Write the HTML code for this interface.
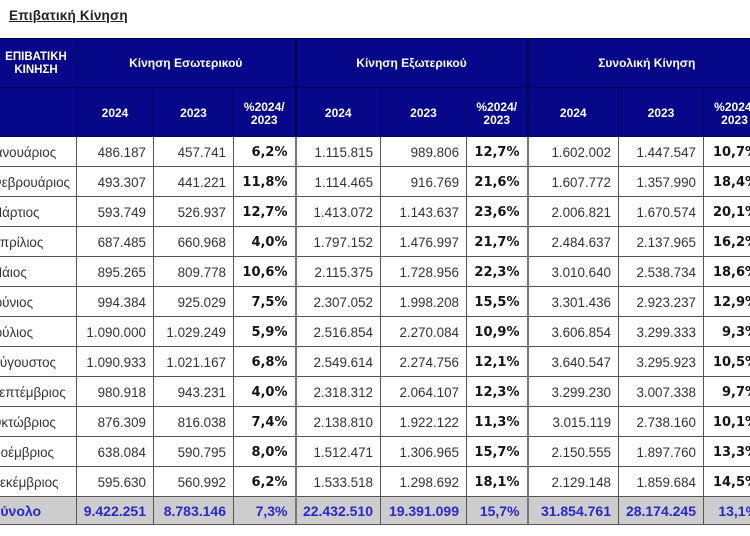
<!DOCTYPE html>
<html>
<head>
<meta charset="utf-8">
<style>
html,body{margin:0;padding:0;background:#fff;}
body{width:750px;height:536px;overflow:hidden;position:relative;font-family:"Liberation Sans","DejaVu Sans",sans-serif;}
.title{position:absolute;left:9px;top:8px;font-size:13.5px;font-weight:bold;color:#222;text-decoration:underline;letter-spacing:0.2px;}
table{position:absolute;left:-7px;top:38px;border-collapse:collapse;table-layout:fixed;width:772px;}
td{padding:0;overflow:hidden;white-space:nowrap;}
.h td{background:#07078a;color:#fff;font-weight:bold;font-size:12px;text-align:center;border:1px solid #00005a;line-height:13px;}
.h1{height:49px;}
.h2{height:49px;}
.h1 td{padding-top:1px;}
.h2 td{padding-top:3px;}
.d td{border:1px solid #555;height:27px;font-size:13.4px;color:#333;text-align:right;padding-right:7px;padding-top:2px;}
.d td.m{text-align:left;padding-left:0;padding-right:0;text-indent:-3px;}
.d td.p{font-family:"DejaVu Sans","Liberation Sans",sans-serif;font-weight:bold;font-size:13px;color:#151515;padding-right:7px;}
.d td.g{border-right:2px solid #777;}
.t td{background:#cdcdcd;color:#2828c8;font-weight:bold;font-size:14px;height:27px;border:1px solid #555;text-align:right;padding-right:7px;}
.t td.m{text-align:left;padding-left:0;text-indent:-2px;}
.t td.g{border-right:2px solid #777;}
.h td.g{border-right:2px solid #00004a;}
</style>
</head>
<body>
<div class="title">Επιβατική Κίνηση</div>
<table>
<colgroup>
<col style="width:83px"><col style="width:77px"><col style="width:80px"><col style="width:62px">
<col style="width:85px"><col style="width:86px"><col style="width:61px">
<col style="width:91px"><col style="width:85px"><col style="width:62px">
</colgroup>
<tr class="h h1"><td style="font-size:11.5px;padding-left:2px">ΕΠΙΒΑΤΙΚΗ<br>ΚΙΝΗΣΗ</td><td colspan="3" class="g">Κίνηση Εσωτερικού</td><td colspan="3" class="g">Κίνηση Εξωτερικού</td><td colspan="3">Συνολική Κίνηση</td></tr>
<tr class="h h2"><td></td><td>2024</td><td>2023</td><td class="g">%2024/<br>2023</td><td>2024</td><td>2023</td><td class="g">%2024/<br>2023</td><td>2024</td><td>2023</td><td>%2024/<br>2023</td></tr>
<tr class="d"><td class="m">Ιανουάριος</td><td>486.187</td><td>457.741</td><td class="p g">6,2%</td><td>1.115.815</td><td>989.806</td><td class="p g">12,7%</td><td>1.602.002</td><td>1.447.547</td><td class="p">10,7%</td></tr>
<tr class="d"><td class="m">Φεβρουάριος</td><td>493.307</td><td>441.221</td><td class="p g">11,8%</td><td>1.114.465</td><td>916.769</td><td class="p g">21,6%</td><td>1.607.772</td><td>1.357.990</td><td class="p">18,4%</td></tr>
<tr class="d"><td class="m">Μάρτιος</td><td>593.749</td><td>526.937</td><td class="p g">12,7%</td><td>1.413.072</td><td>1.143.637</td><td class="p g">23,6%</td><td>2.006.821</td><td>1.670.574</td><td class="p">20,1%</td></tr>
<tr class="d"><td class="m">Απρίλιος</td><td>687.485</td><td>660.968</td><td class="p g">4,0%</td><td>1.797.152</td><td>1.476.997</td><td class="p g">21,7%</td><td>2.484.637</td><td>2.137.965</td><td class="p">16,2%</td></tr>
<tr class="d"><td class="m">Μάιος</td><td>895.265</td><td>809.778</td><td class="p g">10,6%</td><td>2.115.375</td><td>1.728.956</td><td class="p g">22,3%</td><td>3.010.640</td><td>2.538.734</td><td class="p">18,6%</td></tr>
<tr class="d"><td class="m">Ιούνιος</td><td>994.384</td><td>925.029</td><td class="p g">7,5%</td><td>2.307.052</td><td>1.998.208</td><td class="p g">15,5%</td><td>3.301.436</td><td>2.923.237</td><td class="p">12,9%</td></tr>
<tr class="d"><td class="m">Ιούλιος</td><td>1.090.000</td><td>1.029.249</td><td class="p g">5,9%</td><td>2.516.854</td><td>2.270.084</td><td class="p g">10,9%</td><td>3.606.854</td><td>3.299.333</td><td class="p">9,3%</td></tr>
<tr class="d"><td class="m">Αύγουστος</td><td>1.090.933</td><td>1.021.167</td><td class="p g">6,8%</td><td>2.549.614</td><td>2.274.756</td><td class="p g">12,1%</td><td>3.640.547</td><td>3.295.923</td><td class="p">10,5%</td></tr>
<tr class="d"><td class="m">Σεπτέμβριος</td><td>980.918</td><td>943.231</td><td class="p g">4,0%</td><td>2.318.312</td><td>2.064.107</td><td class="p g">12,3%</td><td>3.299.230</td><td>3.007.338</td><td class="p">9,7%</td></tr>
<tr class="d"><td class="m">Οκτώβριος</td><td>876.309</td><td>816.038</td><td class="p g">7,4%</td><td>2.138.810</td><td>1.922.122</td><td class="p g">11,3%</td><td>3.015.119</td><td>2.738.160</td><td class="p">10,1%</td></tr>
<tr class="d"><td class="m">Νοέμβριος</td><td>638.084</td><td>590.795</td><td class="p g">8,0%</td><td>1.512.471</td><td>1.306.965</td><td class="p g">15,7%</td><td>2.150.555</td><td>1.897.760</td><td class="p">13,3%</td></tr>
<tr class="d"><td class="m">Δεκέμβριος</td><td>595.630</td><td>560.992</td><td class="p g">6,2%</td><td>1.533.518</td><td>1.298.692</td><td class="p g">18,1%</td><td>2.129.148</td><td>1.859.684</td><td class="p">14,5%</td></tr>
<tr class="t"><td class="m">Σύνολο</td><td>9.422.251</td><td>8.783.146</td><td class="g">7,3%</td><td>22.432.510</td><td>19.391.099</td><td class="g">15,7%</td><td>31.854.761</td><td>28.174.245</td><td>13,1%</td></tr>
</table>
</body>
</html>
